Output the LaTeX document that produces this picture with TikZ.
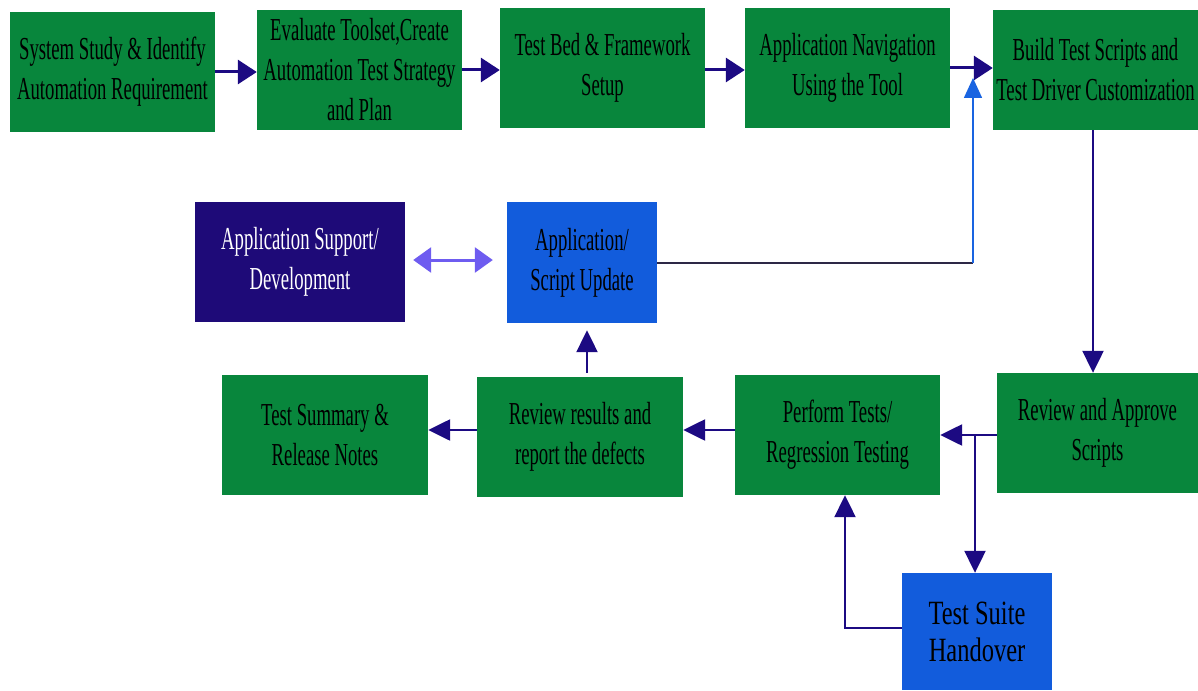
\documentclass[tikz,border=0pt]{standalone}
\usepackage{fontspec}
\newfontfamily\condserif[FakeStretch=0.585]{Liberation Serif}
\newfontfamily\wideserif[FakeStretch=0.72]{Liberation Serif}
\usetikzlibrary{arrows.meta}
\definecolor{boxgreen}{RGB}{8,134,60}
\definecolor{boxblue}{RGB}{18,92,220}
\definecolor{boxnavy}{RGB}{30,10,120}
\definecolor{arrownavy}{RGB}{28,10,130}
\definecolor{arrowblue}{RGB}{25,100,225}
\definecolor{arrowlilac}{RGB}{110,92,240}
\definecolor{linegray}{RGB}{45,40,70}
\tikzset{
  box/.style={rectangle, inner sep=0pt, align=center, text=black,
    font=\condserif\fontsize{32}{40}\selectfont},
  gbox/.style={box, fill=boxgreen},
  bbox/.style={box, fill=boxblue},
  nbox/.style={box, fill=boxnavy, text=white},
  flow/.style={draw=arrownavy, line width=3pt, -{Triangle[length=19pt,width=24pt]}},
  thinflow/.style={draw=arrownavy, line width=2.2pt, -{Triangle[length=22pt,width=21pt]}},
}
\begin{document}
\begin{tikzpicture}[x=1pt,y=-1pt]
\useasboundingbox (0,0) rectangle (1198,690);

% top row
\node[gbox, minimum width=205pt, minimum height=120pt] (s1) at (112.5,72) {System Study \& Identify\\Automation Requirement};
\node[gbox, minimum width=205pt, minimum height=120pt] (s2) at (359.5,70) {Evaluate Toolset,Create\\Automation Test Strategy\\and Plan};
\node[gbox, minimum width=205pt, minimum height=120pt] (s3) at (602.5,68) {Test Bed \& Framework\\Setup};
\node[gbox, minimum width=205pt, minimum height=120pt] (s4) at (847.5,68) {Application Navigation\\Using the Tool};
\node[gbox, minimum width=205pt, minimum height=120pt] (s5) at (1095.5,70) {Build Test Scripts and\\Test Driver Customization};

% middle row
\node[nbox, minimum width=210pt, minimum height=120pt] (sup) at (300,262) {Application Support/\\Development};
\node[bbox, minimum width=150pt, minimum height=121pt] (upd) at (582,262.5) {Application/\\Script Update};

% lower row
\node[gbox, minimum width=206pt, minimum height=120pt] (sum) at (325,435) {Test Summary \&\\Release Notes};
\node[gbox, minimum width=206pt, minimum height=120pt] (rev) at (580,437) {Review results and\\report the defects};
\node[gbox, minimum width=205pt, minimum height=120pt] (perf) at (837.5,435) {Perform Tests/\\Regression Testing};
\node[gbox, minimum width=201pt, minimum height=120pt] (appr) at (1097.5,433) {Review and Approve\\Scripts};

% handover
\node[bbox, minimum width=150pt, minimum height=117pt, font=\wideserif\fontsize{34}{37}\selectfont] (hand) at (977,631.5) {Test Suite\\Handover};

% top row arrows
\draw[flow] (s1.east |- 0,72) -- (s2.west |- 0,72);
\draw[flow] (s2.east |- 0,70) -- (s3.west |- 0,70);
\draw[flow] (s3.east |- 0,70) -- (s4.west |- 0,70);
\draw[flow] (s4.east |- 0,68) -- (s5.west |- 0,68);

% update loop back to top
\coordinate (corner) at (973,263);
\coordinate (bluetip) at (973,78);
\draw[linegray, line width=2.5pt] (upd.east |- corner) -- (corner);
\draw[arrowblue, line width=1.6pt, -{Triangle[length=20pt,width=18pt]}] (corner) -- (bluetip);

% build -> approve
\draw[thinflow] (s5.south -| 1093,0) -- (appr.north -| 1093,0);

% approve -> perform
\draw[thinflow, line width=2.5pt] (appr.west |- 0,435) -- (perf.east |- 0,435);
\coordinate (branch) at (975,435);
\draw[thinflow] (branch) -- (hand.north -| branch);

% handover -> perform
\coordinate (hbend) at (845,628);
\draw[thinflow] (hand.west |- hbend) -- (hbend) -- (perf.south -| hbend);

% perform -> review -> summary
\draw[thinflow, line width=2.5pt] (perf.west |- 0,430) -- (rev.east |- 0,430);
\draw[thinflow, line width=2.5pt] (rev.west |- 0,430) -- (sum.east |- 0,430);

% review -> update
\draw[thinflow, shorten <=4pt, shorten >=7pt] (rev.north -| 587,0) -- (upd.south -| 587,0);

% support <-> update
\draw[arrowlilac, line width=3pt, {Triangle[length=18pt,width=25pt]}-{Triangle[length=18pt,width=25pt]}, shorten <=8pt, shorten >=14pt] (sup.east |- 0,260) -- (upd.west |- 0,260);
\end{tikzpicture}
\end{document}
